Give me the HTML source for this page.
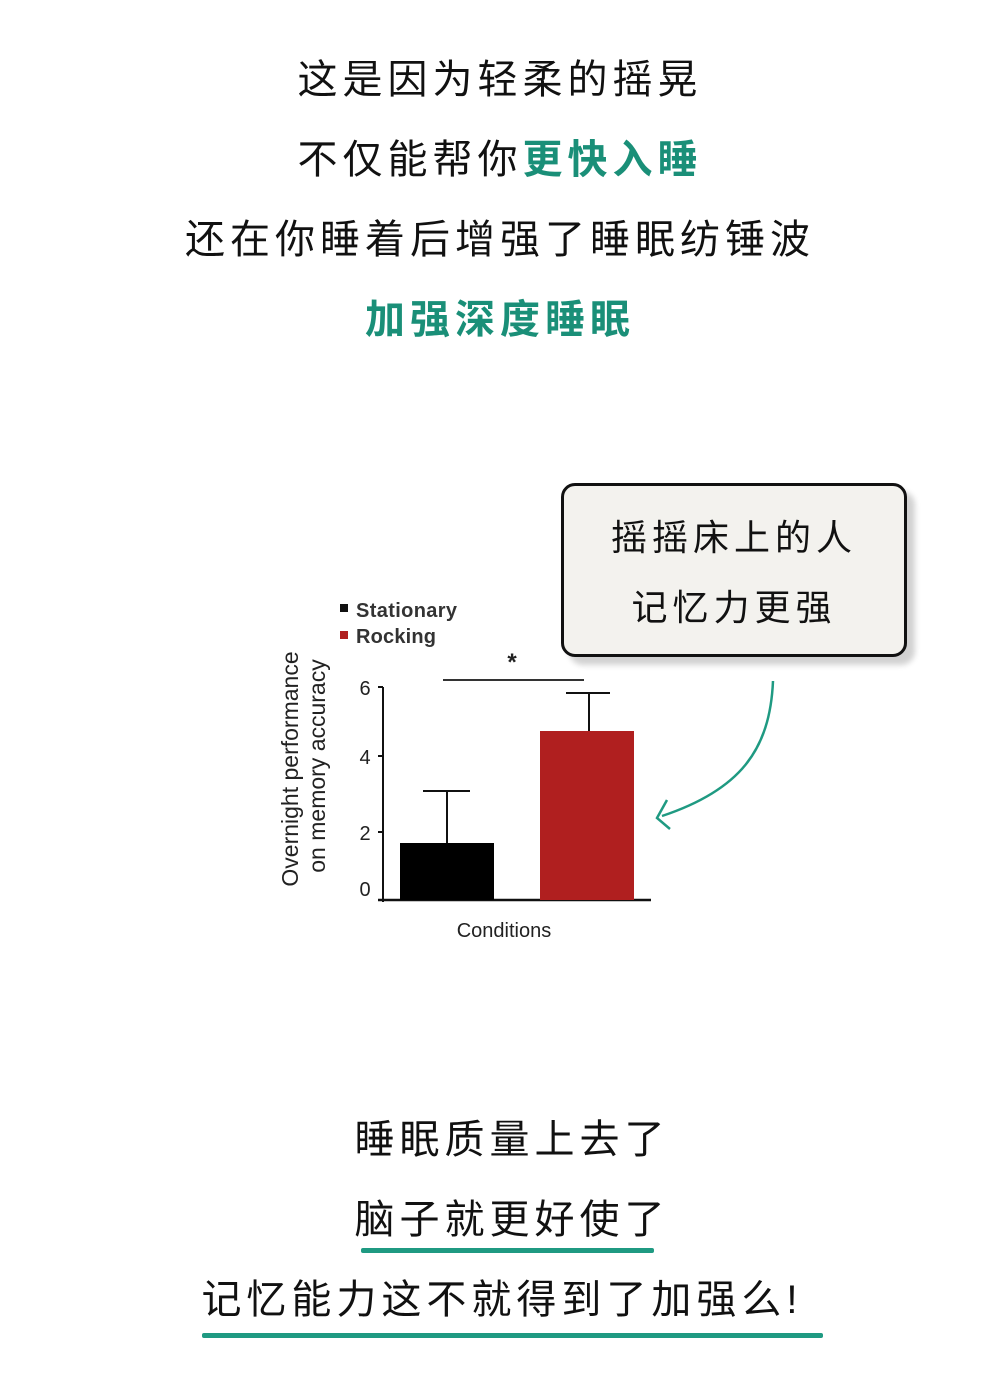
<!DOCTYPE html>
<html><head><meta charset="utf-8"><style>
body{margin:0;width:1000px;height:1389px;background:#fff;position:relative;overflow:hidden;font-family:"Liberation Sans","Noto Sans CJK SC",sans-serif}
.t{position:absolute;left:0;width:1000px;text-align:center;font-size:40px;letter-spacing:5px;color:#111;line-height:50px}
.g{color:#1a8f78;font-weight:bold}
.box{position:absolute;left:561px;top:483px;width:340px;height:168px;border:3px solid #111;border-radius:14px;background:#f3f2ee;box-shadow:8px 8px 6px rgba(0,0,0,0.18)}
.bt{position:absolute;left:0;width:100%;text-align:center;font-size:36px;letter-spacing:5px;color:#111;line-height:44px}
.ul{position:absolute;height:5px;background:#1f9a82;border-radius:2px}
</style></head><body>
<div class="t" style="top:55px">这是因为轻柔的摇晃</div>
<div class="t" style="top:135px">不仅能帮你<span class="g">更快入睡</span></div>
<div class="t" style="top:215px">还在你睡着后增强了睡眠纺锤波</div>
<div class="t g" style="top:295px">加强深度睡眠</div>

<div class="box"><div class="bt" style="top:30px">摇摇床上的人</div><div class="bt" style="top:100px">记忆力更强</div></div>

<svg style="position:absolute;left:0;top:0" width="1000" height="1389">
<g font-family="Liberation Sans, sans-serif" fill="#222">
<rect x="340" y="604" width="8" height="8" fill="#111"/>
<text x="356" y="617" font-size="20" textLength="101" font-weight="bold" fill="#333">Stationary</text>
<rect x="340" y="631" width="8" height="8" fill="#b01f1f"/>
<text x="356" y="643" font-size="20" textLength="80" font-weight="bold" fill="#333">Rocking</text>
<text x="512" y="670" font-size="24" text-anchor="middle" font-weight="bold">*</text>
<line x1="443" y1="680" x2="584" y2="680" stroke="#333" stroke-width="2"/>
<line x1="383" y1="687" x2="383" y2="902" stroke="#111" stroke-width="2"/>
<line x1="378" y1="900" x2="651" y2="900" stroke="#111" stroke-width="2.5"/>
<g stroke="#111" stroke-width="2"><line x1="378" y1="687" x2="383" y2="687"/><line x1="378" y1="756" x2="383" y2="756"/><line x1="378" y1="832" x2="383" y2="832"/></g>
<g font-size="20" text-anchor="middle"><text x="365" y="695">6</text><text x="365" y="764">4</text><text x="365" y="840">2</text><text x="365" y="896">0</text></g>
<rect x="400" y="843" width="94" height="57" fill="#000"/>
<line x1="447" y1="791" x2="447" y2="843" stroke="#111" stroke-width="2"/>
<line x1="423" y1="791" x2="470" y2="791" stroke="#111" stroke-width="2"/>
<rect x="540" y="731" width="94" height="169" fill="#b01f1f"/>
<line x1="589" y1="693" x2="589" y2="731" stroke="#111" stroke-width="2"/>
<line x1="566" y1="693" x2="610" y2="693" stroke="#111" stroke-width="2"/>
<text x="504" y="937" font-size="20" text-anchor="middle">Conditions</text>
<text transform="translate(298,769) rotate(-90)" font-size="23" text-anchor="middle">Overnight performance</text>
<text transform="translate(325,766) rotate(-90)" font-size="23" text-anchor="middle">on memory accuracy</text>
</g>
<path d="M773 681 C770 750 740 790 662 816" fill="none" stroke="#1f9a82" stroke-width="2.5"/>
<path d="M667 800 L657 818 L670 829" fill="none" stroke="#1f9a82" stroke-width="2.5"/>
</svg>

<div class="t" style="top:1115px;left:12px">睡眠质量上去了</div>
<div class="t" style="top:1195px;left:12px">脑子就更好使了</div>
<div class="ul" style="left:361px;top:1248px;width:293px"></div>
<div class="t" style="top:1275px;left:2px">记忆能力这不就得到了加强么!</div>
<div class="ul" style="left:202px;top:1333px;width:621px"></div>
</body></html>
